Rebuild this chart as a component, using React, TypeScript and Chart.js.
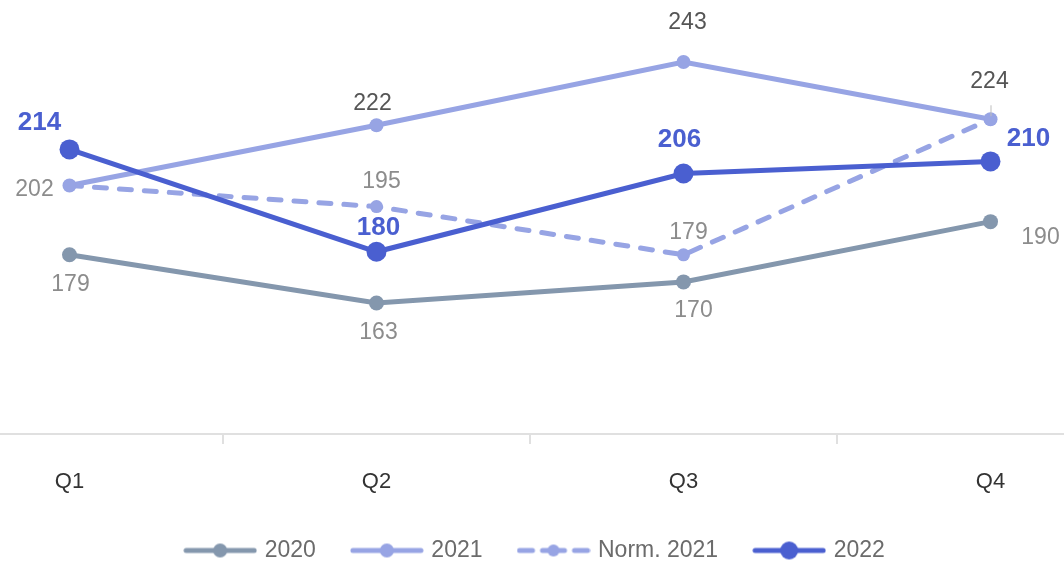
import React, { useEffect, useRef } from "react";
import { Chart, registerables } from "chart.js";

Chart.register(...registerables);

const quarters = ["Q1", "Q2", "Q3", "Q4"];
const values2020 = [179, 163, 170, 190];
const values2021 = [202, 222, 243, 224];
const valuesNorm2021 = [202, 195, 179, 224];
const values2022 = [214, 180, 206, 210];
const seriesNames = ["2020", "2021", "Norm. 2021", "2022"];

const FONT = "'Liberation Sans', Arial, Helvetica, sans-serif";
const C2020 = "#8497ad";
const C2021 = "#97a4e4";
const C2022 = "#4a5fd0";

function makeIcon(color: string, dashed: boolean, r: number): HTMLCanvasElement {
  const c = document.createElement("canvas");
  c.width = 74;
  c.height = 22;
  const g = c.getContext("2d")!;
  g.strokeStyle = color;
  g.fillStyle = color;
  g.lineWidth = 5;
  g.lineCap = "round";
  const segs = dashed ? [[3, 16], [26, 48], [58, 71]] : [[3, 71]];
  segs.forEach(([a, b]) => {
    g.beginPath();
    g.moveTo(a, 11);
    g.lineTo(b, 11);
    g.stroke();
  });
  g.beginPath();
  g.arc(37, 11, r, 0, Math.PI * 2);
  g.fill();
  return c;
}

const labelPlugin = {
  id: "pointLabels",
  afterDatasetsDraw(chart: any) {
    const ctx = chart.ctx;
    chart.data.datasets.forEach((ds: any, i: number) => {
      const cfg = ds.pointLabels;
      if (!cfg) return;
      const meta = chart.getDatasetMeta(i);
      meta.data.forEach((pt: any, j: number) => {
        const off = cfg.offsets[j];
        if (!off) return;
        ctx.save();
        if (cfg.leader && cfg.leader[j]) {
          ctx.strokeStyle = "#bdbdbd";
          ctx.lineWidth = 1;
          ctx.beginPath();
          ctx.moveTo(pt.x + 0.5, pt.y - 14);
          ctx.lineTo(pt.x + 0.5, pt.y - 3);
          ctx.stroke();
        }
        ctx.font = cfg.font;
        ctx.fillStyle = cfg.color;
        ctx.textAlign = "center";
        ctx.textBaseline = "middle";
        ctx.fillText(String(ds.data[j]), pt.x + off[0], pt.y + off[1] + 2);
        ctx.restore();
      });
    });
  },
};

export default function App() {
  const ref = useRef<HTMLCanvasElement | null>(null);

  useEffect(() => {
    if (!ref.current) return;
    const icons = [
      makeIcon(C2020, false, 7),
      makeIcon(C2021, false, 7),
      makeIcon(C2021, true, 6),
      makeIcon(C2022, false, 9),
    ];
    const chart = new Chart(ref.current, {
      type: "line",
      data: {
        labels: quarters,
        datasets: [
          {
            label: seriesNames[0],
            data: values2020,
            borderColor: C2020,
            backgroundColor: C2020,
            borderWidth: 5,
            pointRadius: 7.5,
            pointBorderWidth: 0,
            tension: 0,
            order: 3,
            pointLabels: {
              color: "#8c8c8c",
              font: `23px ${FONT}`,
              offsets: [[1, 28], [2, 28], [10, 27], [50, 14]],
            },
          } as any,
          {
            label: seriesNames[1],
            data: values2021,
            borderColor: C2021,
            backgroundColor: C2021,
            borderWidth: 5,
            pointRadius: 7,
            pointBorderWidth: 0,
            tension: 0,
            order: 2,
            pointLabels: {
              color: "#555555",
              font: `23px ${FONT}`,
              offsets: [null, [-4, -24], [4, -41], [-1, -40]],
              leader: [false, false, false, true],
            },
          } as any,
          {
            label: seriesNames[2],
            data: valuesNorm2021,
            borderColor: C2021,
            backgroundColor: C2021,
            borderWidth: 5,
            borderDash: [12, 13],
            borderCapStyle: "round",
            pointRadius: 6.5,
            pointBorderWidth: 0,
            tension: 0,
            order: 1,
            pointLabels: {
              color: "#8c8c8c",
              font: `23px ${FONT}`,
              offsets: [[-35, 2], [5, -27], [5, -24], null],
            },
          } as any,
          {
            label: seriesNames[3],
            data: values2022,
            borderColor: C2022,
            backgroundColor: C2022,
            borderWidth: 5,
            pointRadius: 10,
            pointBorderWidth: 0,
            tension: 0,
            order: 0,
            pointLabels: {
              color: C2022,
              font: `bold 26px ${FONT}`,
              offsets: [[-30, -29], [2, -26], [-4, -36], [38, -25]],
            },
          } as any,
        ],
      },
      options: {
        animation: false,
        responsive: false,
        devicePixelRatio: 1,
        layout: { padding: 0, autoPadding: false },
        plugins: {
          legend: {
            position: "bottom",
            labels: {
              usePointStyle: true,
              pointStyleWidth: 66,
              padding: 38,
              color: "#6b6b6b",
              font: { size: 23, family: FONT },
              generateLabels: (c: any) =>
                c.data.datasets.map((ds: any, i: number) => ({
                  text: ds.label,
                  pointStyle: icons[i],
                  fillStyle: ds.borderColor,
                  strokeStyle: ds.borderColor,
                  lineWidth: 0,
                  hidden: false,
                  datasetIndex: i,
                  fontColor: "#6b6b6b",
                })),
            },
          },
          tooltip: { enabled: false },
        },
        scales: {
          x: {
            offset: true,
            grid: {
              offset: true,
              drawOnChartArea: false,
              drawTicks: true,
              tickLength: 10,
              color: "#e0e0e0",
              lineWidth: 2,
            },
            border: { display: true, color: "#e0e0e0", width: 2 },
            ticks: { color: "#333333", font: { size: 22, family: FONT }, padding: 25 },
            afterFit: (s: any) => {
              s.height = 67;
              s.paddingLeft = 0;
              s.paddingRight = 0;
            },
          },
          y: {
            position: "right",
            min: 119.5,
            max: 263.6,
            grid: { display: false },
            border: { display: false },
            ticks: { display: false },
            afterFit: (s: any) => {
              s.width = 12;
              s.paddingTop = 0;
              s.paddingBottom = 0;
            },
          },
        },
      },
      plugins: [labelPlugin],
    } as any);
    return () => chart.destroy();
  }, []);

  return (
    <div
      style={{
        position: "fixed",
        left: 0,
        top: 0,
        width: 1064,
        height: 564,
        overflow: "hidden",
        background: "#ffffff",
      }}
    >
      <canvas
        ref={ref}
        width={1240}
        height={572}
        style={{ position: "absolute", left: -84, top: 0 }}
      />
    </div>
  );
}
